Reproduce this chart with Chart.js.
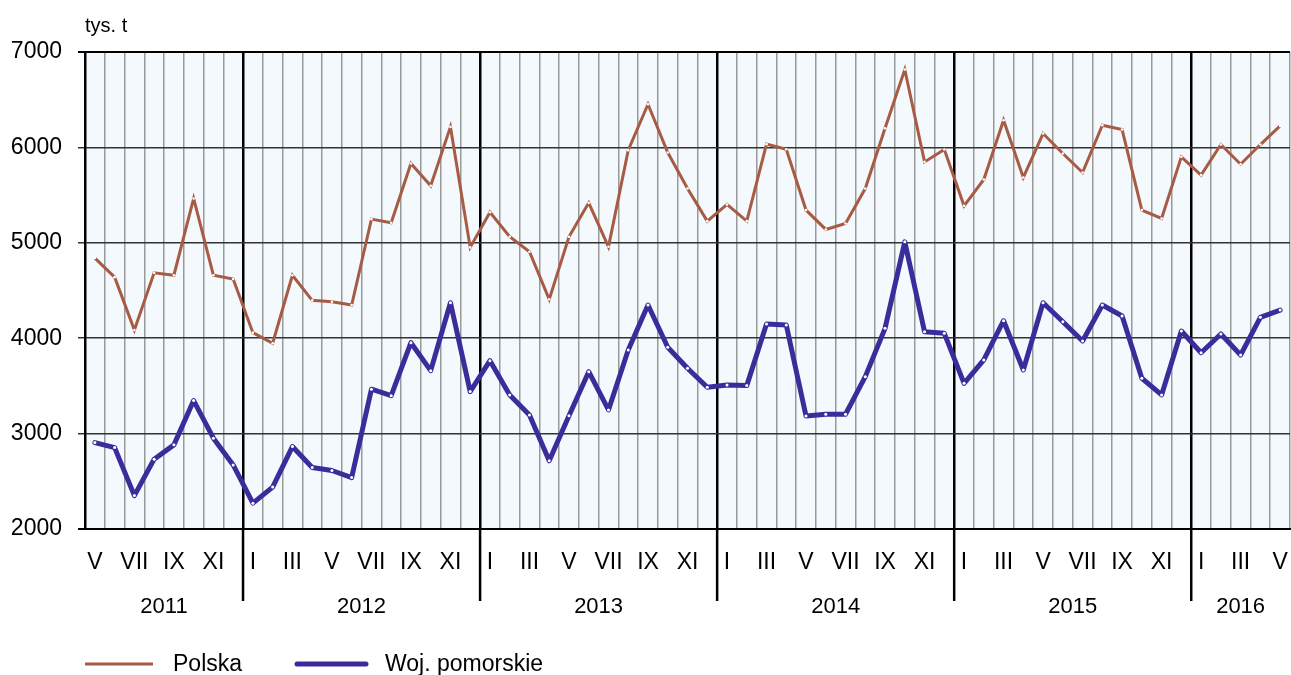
<!DOCTYPE html>
<html><head><meta charset="utf-8">
<script src="https://cdn.jsdelivr.net/npm/chart.js@4/dist/chart.umd.min.js"></script>
<style>html,body{margin:0;padding:0;background:#fff;}canvas{display:block}</style>
</head><body>
<canvas id="c" width="1291" height="675" style="width:1291px;height:675px"></canvas>
<script>
const months = [
 'V','VI','VII','VIII','IX','X','XI','XII',
 'I','II','III','IV','V','VI','VII','VIII','IX','X','XI','XII',
 'I','II','III','IV','V','VI','VII','VIII','IX','X','XI','XII',
 'I','II','III','IV','V','VI','VII','VIII','IX','X','XI','XII',
 'I','II','III','IV','V','VI','VII','VIII','IX','X','XI','XII',
 'I','II','III','IV','V'];
const shownMonths = ['I','III','V','VII','IX','XI'];
const yearLabels = ['2011','2012','2013','2014','2015','2016'];
const yearMonthCounts = [8,12,12,12,12,5];
const polska = [
 4840,4640,4085,4685,4660,5465,4660,4620,
 4058,3947,4660,4397,4382,4348,5248,5210,5831,5597,6215,4952,
 5320,5063,4906,4407,5063,5419,4958,5971,6452,5946,5569,5227,
 5402,5227,6034,5981,5343,5140,5203,5569,6200,6816,5848,5978,
 5388,5664,6285,5685,6145,5936,5737,6232,6187,5343,5255,5901,
 5709,6030,5824,6030,6225];
const pomorskie = [
 2906,2853,2350,2732,2882,3346,2952,2672,
 2271,2439,2864,2644,2613,2539,3465,3398,3953,3660,4372,3440,
 3764,3405,3196,2715,3188,3649,3248,3876,4348,3905,3685,3486,
 3510,3503,4149,4138,3185,3203,3203,3597,4103,5010,4068,4051,
 3527,3772,4183,3667,4372,4173,3971,4348,4233,3580,3405,4075,
 3848,4044,3824,4219,4295];
const yMin = 2000, yMax = 7000, yStep = 1000;
const unitLabel = 'tys. t';
const seriesNames = ['Polska','Woj. pomorskie'];

const BROWN = '#a75b45';
const PURPLE = '#3b2c9b';
const FONT = "'Liberation Sans', Arial, sans-serif";
Chart.defaults.font.family = FONT;

const decor = {
  id: 'decor',
  beforeDraw(chart) {
    const a = chart.chartArea, c = chart.ctx;
    c.save();
    c.fillStyle = '#f3f9fc';
    c.fillRect(a.left, a.top, a.right - a.left, a.bottom - a.top);
    c.restore();
  },
  afterDraw(chart) {
    const a = chart.chartArea, c = chart.ctx, x = chart.scales.x;
    c.save();
    let start = 0;
    c.fillStyle = '#000';
    c.font = '22px ' + FONT;
    c.textAlign = 'center';
    c.textBaseline = 'middle';
    yearMonthCounts.forEach((n, k) => {
      const end = start + n - 1;
      if (start > 0) {
        const bx = (x.getPixelForValue(start - 1) + x.getPixelForValue(start)) / 2;
        c.strokeStyle = '#000';
        c.lineWidth = 2.5;
        c.beginPath(); c.moveTo(bx, a.bottom); c.lineTo(bx, 601); c.stroke();
      }
      const cx = (x.getPixelForValue(start) + x.getPixelForValue(end)) / 2;
      c.fillText(yearLabels[k], cx, 607);
      start += n;
    });
    c.textAlign = 'left';
    c.textBaseline = 'alphabetic';
    c.font = '20px ' + FONT;
    c.fillText(unitLabel, 85, 32);
    c.font = '23px ' + FONT;
    c.lineCap = 'butt';
    c.strokeStyle = BROWN; c.lineWidth = 3;
    c.beginPath(); c.moveTo(85, 664); c.lineTo(153, 664); c.stroke();
    c.fillText(seriesNames[0], 173, 671);
    c.lineCap = 'round';
    c.strokeStyle = PURPLE; c.lineWidth = 5;
    c.beginPath(); c.moveTo(297, 664); c.lineTo(366, 664); c.stroke();
    c.fillText(seriesNames[1], 385, 671);
    c.restore();
  }
};

new Chart(document.getElementById('c'), {
  type: 'line',
  data: {
    labels: months,
    datasets: [
      { label: seriesNames[0], data: polska, borderColor: BROWN, borderWidth: 3,
        pointRadius: 1.3, pointBackgroundColor: '#fff', pointBorderWidth: 0, pointHoverRadius: 0, tension: 0 },
      { label: seriesNames[1], data: pomorskie, borderColor: PURPLE, borderWidth: 5,
        pointRadius: 1.5, pointBackgroundColor: '#fff', pointBorderWidth: 0, pointHoverRadius: 0, tension: 0,
        borderJoinStyle: 'round', borderCapStyle: 'round' }
    ]
  },
  options: {
    responsive: false,
    animation: false,
    devicePixelRatio: 1,
    layout: { autoPadding: false, padding: { top: 52, right: 1, bottom: 0, left: 0 } },
    plugins: { legend: { display: false }, tooltip: { enabled: false } },
    events: [],
    scales: {
      x: {
        type: 'category',
        offset: true,
        grid: {
          offset: true,
          drawTicks: true,
          tickLength: 20,
          tickColor: 'rgba(0,0,0,0)',
          color: ctx => (ctx.index === 0 || months[ctx.index] === 'I') ? '#000' : '#999',
          lineWidth: ctx => (ctx.index === 0 || months[ctx.index] === 'I') ? 2.5 : 1.5
        },
        border: { display: true, color: '#000', width: 2 },
        ticks: {
          autoSkip: false, maxRotation: 0, minRotation: 0, padding: 0,
          color: '#000', font: { size: 23 },
          callback: (v, i) => shownMonths.includes(months[i]) ? months[i] : ''
        },
        afterFit: s => { s.height = 146; s.paddingLeft = 0; s.paddingRight = 0; }
      },
      y: {
        min: yMin, max: yMax,
        ticks: { stepSize: yStep, color: '#000', font: { size: 23 }, padding: 16,
          callback: v => String(v) },
        grid: {
          color: ctx => (ctx.tick && (ctx.tick.value === yMin || ctx.tick.value === yMax)) ? '#000' : '#333',
          lineWidth: ctx => (ctx.tick && (ctx.tick.value === yMin || ctx.tick.value === yMax)) ? 2 : 1.5,
          tickLength: 7, drawTicks: true
        },
        border: { display: true, color: '#000', width: 2 },
        afterFit: s => { s.width = 85; s.paddingTop = 0; s.paddingBottom = 0; }
      }
    }
  },
  plugins: [decor]
});
</script>
</body></html>
